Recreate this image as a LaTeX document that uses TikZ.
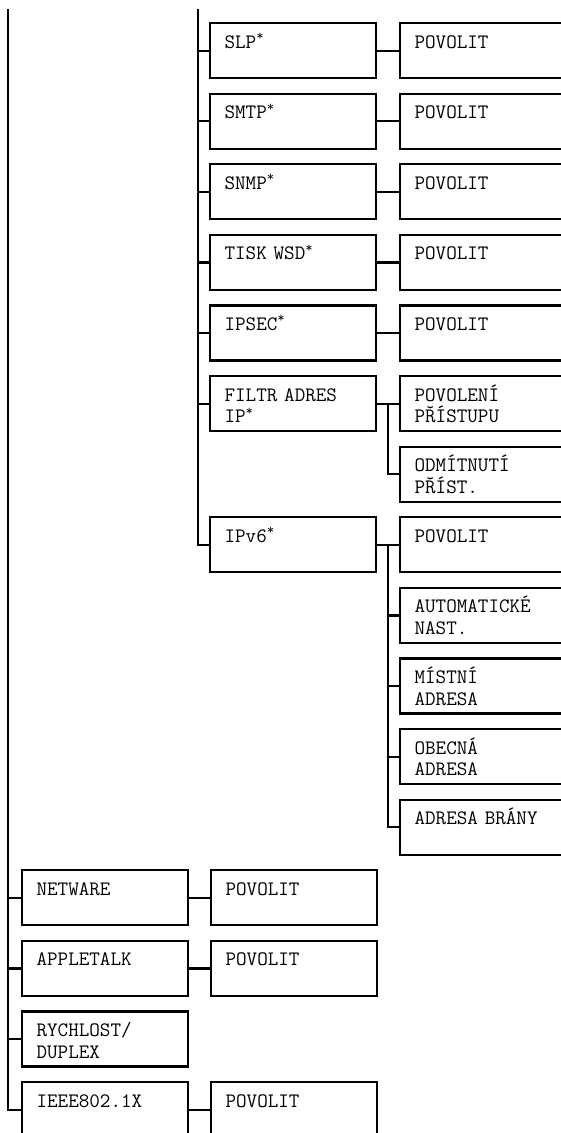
\documentclass[tikz,border=0pt]{standalone}
\usepackage{fontspec}
\usetikzlibrary{calc}

\begin{document}
\begin{tikzpicture}[x=1pt, y=-1pt,
    item/.style={rectangle, draw, line width=2.2pt, anchor=north west,
                 align=left, inner xsep=14.5pt, inner ysep=0pt,
                 text width=137pt, text height=25pt, text depth=30pt,
                 font=\ttfamily\fontsize{20.5}{21.8}\selectfont},
    wide/.style={item, text width=200pt},
    wire/.style={line width=2.2pt}
  ]
    \useasboundingbox (0,0) rectangle (561,1133);
    \clip (0,0) rectangle (561,1133);

    %% trunks
    \coordinate (topA) at (8, 9);
    \coordinate (topB) at (198, 9);

    %% protocol column
    \node[item] (slp)   at (209, 22)    {SLP\textsuperscript{*}};
    \node[item] (smtp)  at (209, 92.6)  {SMTP\textsuperscript{*}};
    \node[item] (snmp)  at (209, 163.2) {SNMP\textsuperscript{*}};
    \node[item] (wsd)   at (209, 233.8) {TISK WSD\textsuperscript{*}};
    \node[item] (ipsec) at (209, 304.4) {IPSEC\textsuperscript{*}};
    \node[item] (filtr) at (209, 375)   {FILTR ADRES\\IP\textsuperscript{*}};
    \node[item] (ipv6)  at (209, 516.2) {IPv6\textsuperscript{*}};

    %% settings column
    \node[wide] (slpon)   at (399, 22)    {POVOLIT};
    \node[wide] (smtpon)  at (399, 92.6)  {POVOLIT};
    \node[wide] (snmpon)  at (399, 163.2) {POVOLIT};
    \node[wide] (wsdon)   at (399, 233.8) {POVOLIT};
    \node[wide] (ipsecon) at (399, 304.4) {POVOLIT};
    \node[wide] (allow)   at (399, 375)   {POVOLENÍ\\PŘÍSTUPU};
    \node[wide] (deny)    at (399, 445.6) {ODMÍTNUTÍ\\PŘÍST.};
    \node[wide] (ipv6on)  at (399, 516.2) {POVOLIT};
    \node[wide] (auto)    at (399, 586.8) {AUTOMATICKÉ\\NAST.};
    \node[wide] (local)   at (399, 657.4) {MÍSTNÍ\\ADRESA};
    \node[wide] (global)  at (399, 728)   {OBECNÁ\\ADRESA};
    \node[wide] (gateway) at (399, 798.6) {ADRESA BRÁNY};

    %% lower items
    \node[item] (netware) at (21, 869.2)  {NETWARE};
    \node[item] (atalk)   at (21, 939.8)  {APPLETALK};
    \node[item] (speed)   at (21, 1010.4) {RYCHLOST/\\DUPLEX};
    \node[item] (ieee)    at (21, 1081)   {IEEE802.1X};
    \node[item] (netwon)  at (210, 869.2) {POVOLIT};
    \node[item] (atalkon) at (210, 939.8) {POVOLIT};
    \node[item] (ieeeon)  at (210, 1081)  {POVOLIT};

    %% forks
    \coordinate (forkF) at ($(filtr.east)!0.5!(allow.west)$);
    \coordinate (forkI) at ($(ipv6.east)!0.5!(ipv6on.west)$);

    \draw[wire] (topB) |- (slp.west);
    \draw[wire] (topB) |- (smtp.west);
    \draw[wire] (topB) |- (snmp.west);
    \draw[wire] (topB) |- (wsd.west);
    \draw[wire] (topB) |- (ipsec.west);
    \draw[wire] (topB) |- (filtr.west);
    \draw[wire] (topB) |- (ipv6.west);

    \draw[wire] (slp.east) -- (slpon.west);
    \draw[wire] (smtp.east) -- (smtpon.west);
    \draw[wire] (snmp.east) -- (snmpon.west);
    \draw[wire] (wsd.east) -- (wsdon.west);
    \draw[wire] (ipsec.east) -- (ipsecon.west);
    \draw[wire] (filtr.east) -- (allow.west);
    \draw[wire] (forkF) |- (deny.west);
    \draw[wire] (ipv6.east) -- (ipv6on.west);
    \draw[wire] (forkI) |- (auto.west);
    \draw[wire] (forkI) |- (local.west);
    \draw[wire] (forkI) |- (global.west);
    \draw[wire] (forkI) |- (gateway.west);

    \draw[wire] (topA) |- (netware.west);
    \draw[wire] (topA) |- (atalk.west);
    \draw[wire] (topA) |- (speed.west);
    \draw[wire] (topA) |- (ieee.west);
    \draw[wire] (netware.east) -- (netwon.west);
    \draw[wire] (atalk.east) -- (atalkon.west);
    \draw[wire] (ieee.east) -- (ieeeon.west);
  \end{tikzpicture}
\end{document}
